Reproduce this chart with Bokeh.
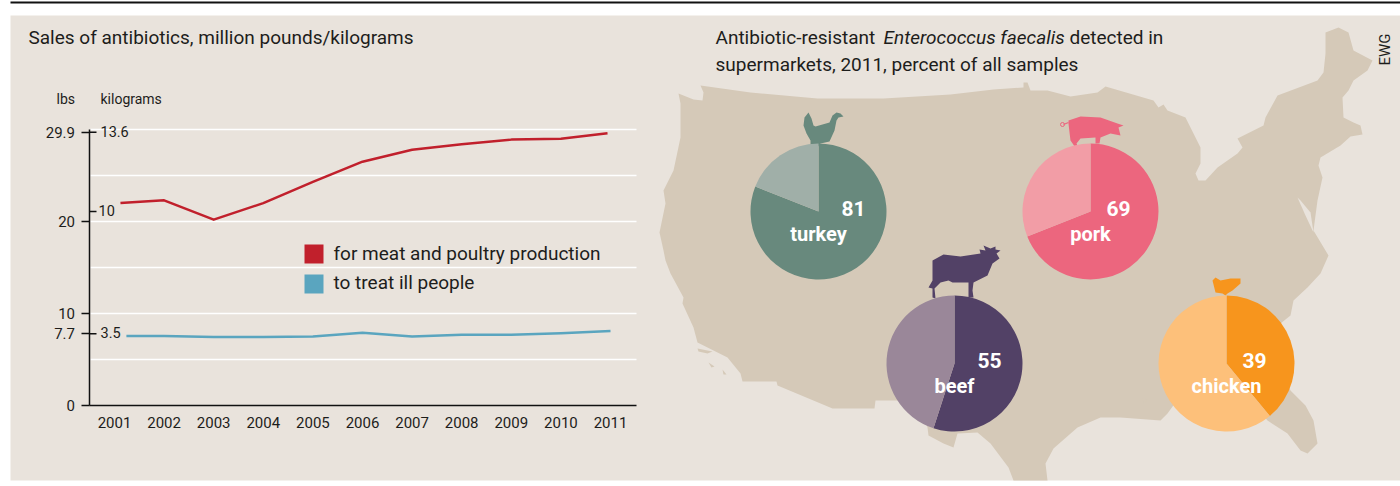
import math
from bokeh.plotting import figure
from bokeh.models import FixedTicker, LinearAxis, Range1d
from bokeh.core.properties import value
from bokeh.embed import file_html
from bokeh.resources import INLINE

# ---------- data ----------
years = [2001, 2002, 2003, 2004, 2005, 2006, 2007, 2008, 2009, 2010, 2011]
meat_x = [2001.12, 2002, 2003, 2004, 2005, 2006, 2007, 2008, 2009, 2010, 2010.94]
meat_lbs = [22.0, 22.3, 20.2, 22.0, 24.3, 26.5, 27.8, 28.4, 28.9, 29.0, 29.6]
people_x = [2001.24, 2002, 2003, 2004, 2005, 2006, 2007, 2008, 2009, 2010, 2011]
people_lbs = [7.55, 7.55, 7.45, 7.45, 7.5, 7.9, 7.5, 7.7, 7.7, 7.85, 8.1]
lbs_ticks = [0, 7.8, 10, 20, 29.7]
lbs_labels = ["0", "7.7", "10", "20", "29.9"]
kg_ticks = [29.7, 21.1, 7.8]
kg_labels = ["13.6", "10", "3.5"]
grid_lines = [5, 10, 15, 20, 25, 30]

pie_names = ["turkey", "pork", "beef", "chicken"]
pie_values = [81, 69, 55, 39]

# ---------- styles ----------
BG = "#E9E3DC"
MAP = "#D5C9B8"
INK = "#1d1d1b"
RED = "#C1202C"
BLUE = "#5AA5BF"
FONT = "Roboto"
pie_dark = ["#68897D", "#EC667E", "#524166", "#F7951D"]
pie_light = ["#A0AFA8", "#F29DA6", "#9A8799", "#FDC07A"]
pie_cx = [818, 1090, 954, 1226]
pie_cy = [211, 211, 363, 363]
pie_r = 68
num_dx = [35, 28, 35, 28]

# pixel-style base scale for the map panel, own scales for the line chart
X_PX = 49.6
Y_PX = 9.2
lx = lambda px: 2001 + (px - 114) / X_PX
ly = lambda py: (405 - py) / Y_PX

p = figure(width=1400, height=486, output_backend="svg", toolbar_location=None,
           x_range=(0, 1400), y_range=(486, 0),
           min_border_left=0, min_border_right=0, min_border_top=0, min_border_bottom=0,
           background_fill_color="white", border_fill_color="white", outline_line_color=None,
           x_axis_location=None, y_axis_location=None)
p.grid.visible = False
p.extra_x_ranges["years"] = Range1d(lx(0), lx(1400))
p.extra_y_ranges["lbs"] = Range1d(ly(486), ly(0))
chart = dict(x_range_name="years", y_range_name="lbs")

# panel and top rule
p.quad(left=[10], right=[1400], top=[15], bottom=[480], fill_color=BG, line_color=None)
p.quad(left=[10], right=[1400], top=[1], bottom=[3], fill_color="#111111", line_color=None)

# ---------- map and pies ----------
usa = [(678, 93), (693, 99), (702, 100), (703, 92), (700, 85), (750, 92), (817, 98), (883, 98),
       (950, 94), (993, 89), (1023, 87), (1023, 82), (1027, 82), (1030, 90), (1047, 90), (1070, 96),
       (1097, 92), (1105, 86), (1153, 100), (1158, 107), (1163, 104), (1167, 110), (1185, 117),
       (1188, 123), (1200, 147), (1200, 163), (1195, 173), (1198, 180), (1205, 180), (1217, 167),
       (1237, 153), (1242, 147), (1237, 138), (1263, 125), (1265, 117), (1277, 95), (1317, 80),
       (1323, 72), (1325, 53), (1325, 32), (1338, 27), (1348, 32), (1353, 50), (1372, 60), (1367, 70),
       (1353, 80), (1348, 90), (1342, 97), (1343, 117), (1353, 122), (1360, 125), (1362, 134),
       (1350, 136), (1340, 145), (1320, 157), (1318, 165), (1322, 177), (1317, 200), (1313, 230),
       (1328, 255), (1320, 273), (1307, 287), (1293, 300), (1290, 315), (1280, 323), (1270, 345),
       (1290, 390), (1305, 405), (1313, 420), (1317, 443), (1307, 453), (1300, 450), (1287, 433),
       (1267, 420), (1250, 400), (1180, 395), (1167, 413), (1160, 420), (1120, 417), (1100, 417),
       (1077, 427), (1053, 448), (1045, 463), (1047, 480), (1013, 480), (1008, 467), (990, 443),
       (977, 432), (957, 433), (953, 447), (943, 443), (928, 435), (927, 427), (917, 400), (875, 400),
       (874, 408), (832, 408), (777, 385), (776, 381), (742, 381), (740, 373), (727, 357), (697, 342),
       (693, 327), (682, 303), (683, 297), (670, 273), (665, 260), (663, 250), (659, 232), (665, 203),
       (663, 190), (673, 170), (680, 137), (680, 103)]
p.patch([a for a, _ in usa], [b for _, b in usa], fill_color=MAP, line_color=None)
p.patch([1297, 1305, 1313, 1310, 1300], [197, 215, 232, 212, 200], fill_color=BG, line_color=None)
for isl in [[(697, 348), (712, 351), (707, 353), (698, 351)], [(708, 362), (714, 366), (711, 367)],
            [(722, 369), (726, 374), (723, 374)], [(1345, 134), (1352, 131), (1350, 135)],
            [(1142, 398), (1148, 399), (1143, 403)]]:
    p.patch([a for a, _ in isl], [b for _, b in isl], fill_color=MAP, line_color=None)

turkey = [(808, 112), (804, 117), (803, 125), (806, 133), (810, 140), (810, 145), (806, 147), (809, 151),
          (813, 147), (816, 148), (820, 143), (829, 141), (834, 130), (836, 120), (838, 117), (843, 116),
          (840, 113), (836, 112), (832, 115), (829, 122), (822, 124), (815, 126), (813, 125), (811, 118)]
pig = [(1068, 120), (1080, 116), (1100, 117), (1117, 123), (1123, 125), (1118, 127), (1120, 135),
       (1110, 133), (1100, 137), (1099, 143), (1095, 143), (1095, 137), (1080, 138), (1076, 143),
       (1079, 150), (1077, 150), (1070, 140), (1069, 132), (1068, 123)]
cow = [(932, 260), (943, 254), (960, 256), (980, 253), (979, 249), (985, 250), (983, 245), (990, 248),
       (995, 246), (995, 249), (1000, 250), (996, 253), (999, 258), (992, 263), (987, 275), (973, 282),
       (972, 290), (973, 297), (968, 297), (968, 282), (952, 282), (948, 280), (940, 282), (934, 288),
       (935, 298), (932, 297), (932, 288), (928, 287), (932, 280)]
hen = [(1212, 280), (1215, 277), (1220, 280), (1230, 278), (1240, 278), (1240, 283), (1232, 290),
       (1227, 293), (1225, 295), (1222, 293), (1215, 292)]
for shape, col in zip([turkey, pig, cow, hen], pie_dark):
    p.patch([a for a, _ in shape], [b for _, b in shape], fill_color=col, line_color=None)
p.line([1068, 1063], [122, 124], line_color=pie_dark[1], line_width=1.2)
p.scatter([1062], [124], size=4, marker="circle", fill_color=None, line_color=pie_dark[1], line_width=1)

for name, val, cx, cy, dark, light, dx in zip(pie_names, pie_values, pie_cx, pie_cy,
                                              pie_dark, pie_light, num_dx):
    split = math.pi / 2 - 2 * math.pi * val / 100
    p.wedge(x=[cx], y=[cy], radius=pie_r, start_angle=math.pi / 2, end_angle=split,
            direction="clock", fill_color=dark, line_color=None)
    p.wedge(x=[cx], y=[cy], radius=pie_r, start_angle=split, end_angle=math.pi / 2,
            direction="clock", fill_color=light, line_color=None)
    p.text(x=[cx + dx], y=[cy - 3], text=[str(val)], text_align="center", text_baseline="middle",
           text_font=value("Roboto"), text_font_style="bold", text_font_size="21px", text_color="white")
    p.text(x=[cx], y=[cy + 22], text=[name], text_align="center", text_baseline="middle",
           text_font=value("Roboto"), text_font_style="bold", text_font_size="20px", text_color="white")

for txt, px, py, style in [("Antibiotic-resistant", 715, 37, "normal"),
                           ("Enterococcus faecalis", 883, 37, "italic"),
                           ("detected in", 1069, 37, "normal"),
                           ("supermarkets, 2011, percent of all samples", 715, 64, "normal")]:
    p.text(x=[px], y=[py], text=[txt], text_baseline="alphabetic", text_font=value(FONT),
           text_font_style=style, text_font_size="19px", text_color=INK)
p.text(x=[1384], y=[49], text=["EWG"], angle=math.pi / 2, text_align="center",
       text_baseline="alphabetic", text_font=value(FONT), text_font_size="15px", text_color=INK)

# ---------- line chart ----------
p.segment(x0=[lx(90)] * len(grid_lines), x1=[lx(636)] * len(grid_lines), y0=grid_lines, y1=grid_lines,
          line_color="white", line_width=1.5, **chart)

yax = LinearAxis(x_range_name="years", y_range_name="lbs", fixed_location=lx(88.5),
                 ticker=FixedTicker(ticks=lbs_ticks),
                 major_label_overrides={t: s for t, s in zip(lbs_ticks, lbs_labels)},
                 major_tick_out=8, major_tick_in=0, minor_tick_line_color=None,
                 major_label_standoff=6, major_label_text_font=FONT,
                 major_label_text_font_size="15px", major_label_text_color=INK,
                 axis_line_color="#111111", major_tick_line_color="#111111",
                 axis_line_width=1.5, major_tick_line_width=1.5, bounds=(0, 30))
p.add_layout(yax, "left")
xax = LinearAxis(x_range_name="years", y_range_name="lbs", fixed_location=0,
                 ticker=FixedTicker(ticks=years),
                 major_label_overrides={y: str(y) for y in years},
                 major_tick_line_color=None, minor_tick_line_color=None,
                 major_label_standoff=5, major_label_text_font=FONT,
                 major_label_text_font_size="15px", major_label_text_color=INK,
                 axis_line_color="#111111", axis_line_width=1.5, bounds=(lx(88.5), lx(636)))
p.add_layout(xax, "below")

p.segment(x0=[lx(88.5)] * 3, x1=[lx(96)] * 3, y0=kg_ticks, y1=kg_ticks,
          line_color="#111111", line_width=1.5, **chart)
p.text(x=[lx(100), lx(98), lx(100)], y=kg_ticks, text=kg_labels, text_baseline="middle", y_offset=-1,
       text_font=value(FONT), text_font_size="14.5px", text_color=INK, **chart)

p.line(meat_x, meat_lbs, line_color=RED, line_width=2.5, line_join="round", **chart)
p.line(people_x, people_lbs, line_color=BLUE, line_width=2.5, line_join="round", **chart)

# legend
p.rect(x=[lx(313.5)] * 2, y=[ly(253.5), ly(283.5)], width=19, height=19,
       width_units="screen", height_units="screen", fill_color=[RED, BLUE], line_color=None, **chart)
p.text(x=[lx(333)] * 2, y=[ly(253), ly(282)],
       text=["for meat and poultry production", "to treat ill people"],
       text_baseline="middle", text_font=value(FONT), text_font_size="19px", text_color=INK, **chart)

for txt, px, py, size in [("Sales of antibiotics, million pounds/kilograms", 28, 37, "19px"),
                          ("lbs", 56, 98, "14px"), ("kilograms", 100, 98, "14px")]:
    p.text(x=[lx(px)], y=[ly(py)], text=[txt], text_font=value(FONT), text_font_size=size,
           text_color=INK, text_baseline="alphabetic", **chart)

open("out.html", "w").write(file_html(p, INLINE))
